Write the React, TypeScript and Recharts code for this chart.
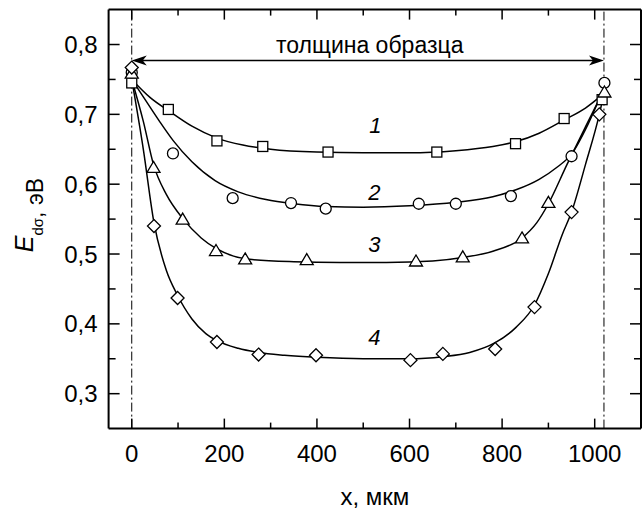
import React from 'react';
import { ComposedChart, Line, Scatter, XAxis, YAxis, ReferenceLine, ReferenceDot, Label } from 'recharts';

const FONT = '"Liberation Sans", Arial, Helvetica, sans-serif';

// axes
const X_DOMAIN = [-50, 1100];
const Y_DOMAIN = [0.25, 0.85];
const X_TICKS = [0, 100, 200, 300, 400, 500, 600, 700, 800, 900, 1000];
const X_LABELED = [0, 200, 400, 600, 800, 1000];
const Y_TICKS = [0.3, 0.35, 0.4, 0.45, 0.5, 0.55, 0.6, 0.65, 0.7, 0.75, 0.8];
const Y_LABELED = [0.3, 0.4, 0.5, 0.6, 0.7, 0.8];

// sample boundaries and annotation
const SAMPLE_START = 0;
const SAMPLE_END = 1020;
const ARROW_Y = 0.777;
const ARROW_TEXT = 'толщина образца';
const ARROW_TEXT_POS = { x: 514, y: 0.8 };
const CURVE_LABELS = [
  { name: '1', x: 526, y: 0.684 },
  { name: '2', x: 524, y: 0.588 },
  { name: '3', x: 524, y: 0.514 },
  { name: '4', x: 524, y: 0.381 },
];

// measured points
const pts1 = [
  { x: 0, y: 0.745 }, { x: 79, y: 0.707 }, { x: 184, y: 0.662 }, { x: 283, y: 0.654 },
  { x: 424, y: 0.646 }, { x: 659, y: 0.646 }, { x: 829, y: 0.658 }, { x: 934, y: 0.694 },
  { x: 1016, y: 0.721 },
];
const pts2 = [
  { x: 0, y: 0.76 }, { x: 89, y: 0.644 }, { x: 218, y: 0.58 }, { x: 344, y: 0.573 },
  { x: 419, y: 0.565 }, { x: 620, y: 0.572 }, { x: 700, y: 0.572 }, { x: 819, y: 0.583 },
  { x: 950, y: 0.64 }, { x: 1021, y: 0.745 },
];
const pts3 = [
  { x: 0, y: 0.759 }, { x: 47, y: 0.624 }, { x: 110, y: 0.55 }, { x: 182, y: 0.505 },
  { x: 245, y: 0.493 }, { x: 378, y: 0.492 }, { x: 614, y: 0.49 }, { x: 715, y: 0.496 },
  { x: 843, y: 0.523 }, { x: 900, y: 0.574 }, { x: 1021, y: 0.732 },
];
const pts4 = [
  { x: 0, y: 0.767 }, { x: 48, y: 0.54 }, { x: 99, y: 0.437 }, { x: 184, y: 0.374 },
  { x: 274, y: 0.356 }, { x: 398, y: 0.355 }, { x: 602, y: 0.348 }, { x: 672, y: 0.357 },
  { x: 785, y: 0.364 }, { x: 870, y: 0.424 }, { x: 950, y: 0.56 }, { x: 1010, y: 0.7 },
];

// fitted curves
const fit1 = [
  { x: 0, y: 0.75 }, { x: 40, y: 0.724 }, { x: 80, y: 0.705 }, { x: 130, y: 0.683 },
  { x: 184, y: 0.666 }, { x: 240, y: 0.656 }, { x: 300, y: 0.65 }, { x: 400, y: 0.646 },
  { x: 500, y: 0.645 }, { x: 600, y: 0.645 }, { x: 700, y: 0.648 }, { x: 780, y: 0.654 },
  { x: 830, y: 0.661 }, { x: 880, y: 0.673 }, { x: 934, y: 0.692 }, { x: 980, y: 0.709 },
  { x: 1020, y: 0.73 },
];
const fit2 = [
  { x: 0, y: 0.75 }, { x: 30, y: 0.72 }, { x: 60, y: 0.69 }, { x: 90, y: 0.662 },
  { x: 130, y: 0.632 }, { x: 180, y: 0.605 }, { x: 230, y: 0.589 }, { x: 290, y: 0.578 },
  { x: 350, y: 0.572 }, { x: 420, y: 0.568 }, { x: 500, y: 0.567 }, { x: 600, y: 0.569 },
  { x: 700, y: 0.574 }, { x: 780, y: 0.582 }, { x: 830, y: 0.592 }, { x: 880, y: 0.607 },
  { x: 920, y: 0.625 }, { x: 950, y: 0.643 }, { x: 985, y: 0.685 }, { x: 1020, y: 0.738 },
];
const fit3 = [
  { x: 0, y: 0.75 }, { x: 25, y: 0.69 }, { x: 47, y: 0.628 }, { x: 75, y: 0.585 },
  { x: 110, y: 0.551 }, { x: 150, y: 0.523 }, { x: 182, y: 0.508 }, { x: 220, y: 0.497 },
  { x: 260, y: 0.492 }, { x: 350, y: 0.489 }, { x: 450, y: 0.488 }, { x: 550, y: 0.488 },
  { x: 650, y: 0.49 }, { x: 715, y: 0.495 }, { x: 780, y: 0.504 }, { x: 843, y: 0.523 },
  { x: 875, y: 0.545 }, { x: 900, y: 0.572 }, { x: 940, y: 0.628 }, { x: 980, y: 0.682 },
  { x: 1020, y: 0.735 },
];
const fit4 = [
  { x: 0, y: 0.75 }, { x: 25, y: 0.65 }, { x: 48, y: 0.545 }, { x: 75, y: 0.476 },
  { x: 98, y: 0.442 }, { x: 130, y: 0.407 }, { x: 160, y: 0.386 }, { x: 184, y: 0.376 },
  { x: 230, y: 0.365 }, { x: 274, y: 0.359 }, { x: 330, y: 0.355 }, { x: 400, y: 0.352 },
  { x: 500, y: 0.35 }, { x: 600, y: 0.35 }, { x: 672, y: 0.353 }, { x: 730, y: 0.359 },
  { x: 785, y: 0.373 }, { x: 830, y: 0.395 }, { x: 870, y: 0.427 }, { x: 900, y: 0.472 },
  { x: 930, y: 0.528 }, { x: 950, y: 0.56 }, { x: 980, y: 0.628 }, { x: 1010, y: 0.7 },
  { x: 1020, y: 0.73 },
];

const fmtY = (v: number) => v.toFixed(1).replace('.', ',');
const isLabeledY = (v: number) => Y_LABELED.some((t) => Math.abs(t - v) < 1e-6);

const BottomTick = (p: any) => {
  const v = p.payload.value;
  const major = X_LABELED.includes(v);
  return (
    <g>
      <line x1={p.x} x2={p.x} y1={p.y} y2={p.y - (major ? 10 : 6)} stroke="#000" strokeWidth={1.5} />
      {major && (
        <text x={p.x} y={p.y + 33} textAnchor="middle" fontSize={24} fontFamily={FONT} fill="#000">
          {v}
        </text>
      )}
    </g>
  );
};
const TopTick = (p: any) => {
  const major = X_LABELED.includes(p.payload.value);
  return <line x1={p.x} x2={p.x} y1={p.y} y2={p.y + (major ? 10 : 6)} stroke="#000" strokeWidth={1.5} />;
};
const LeftTick = (p: any) => {
  const v = p.payload.value;
  const major = isLabeledY(v);
  return (
    <g>
      <line x1={p.x} x2={p.x + (major ? 11 : 7)} y1={p.y} y2={p.y} stroke="#000" strokeWidth={1.5} />
      {major && (
        <text x={p.x - 11} y={p.y + 8.5} textAnchor="end" fontSize={24} fontFamily={FONT} fill="#000">
          {fmtY(v)}
        </text>
      )}
    </g>
  );
};
const RightTick = (p: any) => {
  const major = isLabeledY(p.payload.value);
  return <line x1={p.x} x2={p.x - (major ? 11 : 7)} y1={p.y} y2={p.y} stroke="#000" strokeWidth={1.5} />;
};

const marker = (kind: string) => (p: any) => {
  const { cx, cy } = p;
  if (cx == null || cy == null) return <g />;
  const common = { fill: '#fff', stroke: '#000', strokeWidth: 1.3 };
  if (kind === 'square') return <rect x={cx - 5} y={cy - 5} width={10} height={10} {...common} />;
  if (kind === 'circle') return <circle cx={cx} cy={cy} r={5.5} {...common} />;
  if (kind === 'triangle')
    return <polygon points={`${cx},${cy - 6} ${cx + 6.5},${cy + 5} ${cx - 6.5},${cy + 5}`} {...common} />;
  return <polygon points={`${cx},${cy - 6.5} ${cx + 6.5},${cy} ${cx},${cy + 6.5} ${cx - 6.5},${cy}`} {...common} />;
};

const ArrowShape = (p: any) => {
  const { x1, y1, x2, y2 } = p;
  const xa = Math.min(x1, x2);
  const xb = Math.max(x1, x2);
  const y = (y1 + y2) / 2;
  return (
    <g>
      <line x1={xa + 4} x2={xb - 4} y1={y} y2={y} stroke="#000" strokeWidth={1.5} />
      <path d={`M${xa},${y} L${xa + 15},${y - 5} L${xa + 11},${y} L${xa + 15},${y + 5} Z`} fill="#000" />
      <path d={`M${xb},${y} L${xb - 15},${y - 5} L${xb - 11},${y} L${xb - 15},${y + 5} Z`} fill="#000" />
    </g>
  );
};

const textShape = (txt: string, italic: boolean, size: number) => (p: any) => (
  <text
    x={p.cx}
    y={p.cy}
    dy="0.36em"
    textAnchor="middle"
    fontSize={size}
    fontStyle={italic ? 'italic' : 'normal'}
    fontFamily={FONT}
    fill="#000"
  >
    {txt}
  </text>
);

const YTitle = (p: any) => {
  const vb = p.viewBox || {};
  const cx = (vb.x || 0) + 33;
  const cy = (vb.y || 0) + (vb.height || 0) / 2 - 4;
  return (
    <text
      x={cx}
      y={cy}
      transform={`rotate(-90, ${cx}, ${cy})`}
      textAnchor="middle"
      fontFamily={FONT}
      fill="#000"
    >
      <tspan fontSize={25} fontStyle="italic">E</tspan>
      <tspan fontSize={15} dy={10}>dσ</tspan>
      <tspan fontSize={23}>, эВ</tspan>
    </text>
  );
};

const XTitle = (p: any) => {
  const vb = p.viewBox || {};
  return (
    <text
      x={(vb.x || 0) + (vb.width || 0) / 2}
      y={(vb.y || 0) + (vb.height || 0) - 6}
      textAnchor="middle"
      fontSize={24}
      fontFamily={FONT}
      fill="#000"
    >
      x, мкм
    </text>
  );
};

const series = [
  { fit: fit1, pts: pts1, kind: 'square' },
  { fit: fit2, pts: pts2, kind: 'circle' },
  { fit: fit3, pts: pts3, kind: 'triangle' },
  { fit: fit4, pts: pts4, kind: 'diamond' },
];

export default function App() {
  return (
    <div style={{ position: 'absolute', left: 0, top: 0, width: 642, height: 511, background: '#fff' }}>
      <ComposedChart width={642} height={511} margin={{ top: 8.6, right: 0, bottom: 0, left: 0 }}>
        <XAxis
          dataKey="x"
          type="number"
          domain={X_DOMAIN}
          ticks={X_TICKS}
          interval={0}
          allowDataOverflow
          height={82.4}
          tickSize={0}
          tickMargin={0}
          tick={BottomTick}
          axisLine={{ stroke: '#000', strokeWidth: 2 }}
        >
          <Label content={XTitle} />
        </XAxis>
        <XAxis
          xAxisId="top"
          orientation="top"
          dataKey="x"
          type="number"
          domain={X_DOMAIN}
          ticks={X_TICKS}
          interval={0}
          allowDataOverflow
          height={1}
          tickSize={0}
          tickMargin={0}
          tick={TopTick}
          axisLine={{ stroke: '#000', strokeWidth: 2 }}
        />
        <YAxis
          type="number"
          domain={Y_DOMAIN}
          ticks={Y_TICKS}
          interval={0}
          allowDataOverflow
          width={108.6}
          tickSize={0}
          tickMargin={0}
          tick={LeftTick}
          axisLine={{ stroke: '#000', strokeWidth: 2 }}
        >
          <Label content={YTitle} />
        </YAxis>
        <YAxis
          yAxisId="right"
          orientation="right"
          type="number"
          domain={Y_DOMAIN}
          ticks={Y_TICKS}
          interval={0}
          allowDataOverflow
          width={1}
          tickSize={0}
          tickMargin={0}
          tick={RightTick}
          axisLine={{ stroke: '#000', strokeWidth: 2 }}
        />
        <ReferenceLine x={SAMPLE_START} stroke="#000" strokeWidth={1} strokeDasharray="9 3 2 3" />
        <ReferenceLine x={SAMPLE_END} stroke="#000" strokeWidth={1} strokeDasharray="9 3 2 3" />
        <ReferenceLine
          segment={[
            { x: SAMPLE_START, y: ARROW_Y },
            { x: SAMPLE_END, y: ARROW_Y },
          ]}
          shape={ArrowShape}
        />
        <ReferenceDot x={ARROW_TEXT_POS.x} y={ARROW_TEXT_POS.y} r={0} shape={textShape(ARROW_TEXT, false, 23)} />
        {CURVE_LABELS.map((c) => (
          <ReferenceDot key={c.name} x={c.x} y={c.y} r={0} shape={textShape(c.name, true, 22)} />
        ))}
        {series.map((s, i) => (
          <Line
            key={'l' + i}
            data={s.fit}
            dataKey="y"
            type="monotone"
            stroke="#000"
            strokeWidth={1.5}
            dot={false}
            activeDot={false}
            isAnimationActive={false}
          />
        ))}
        {series.map((s, i) => (
          <Scatter key={'s' + i} data={s.pts} dataKey="y" shape={marker(s.kind)} isAnimationActive={false} />
        ))}
      </ComposedChart>
    </div>
  );
}
